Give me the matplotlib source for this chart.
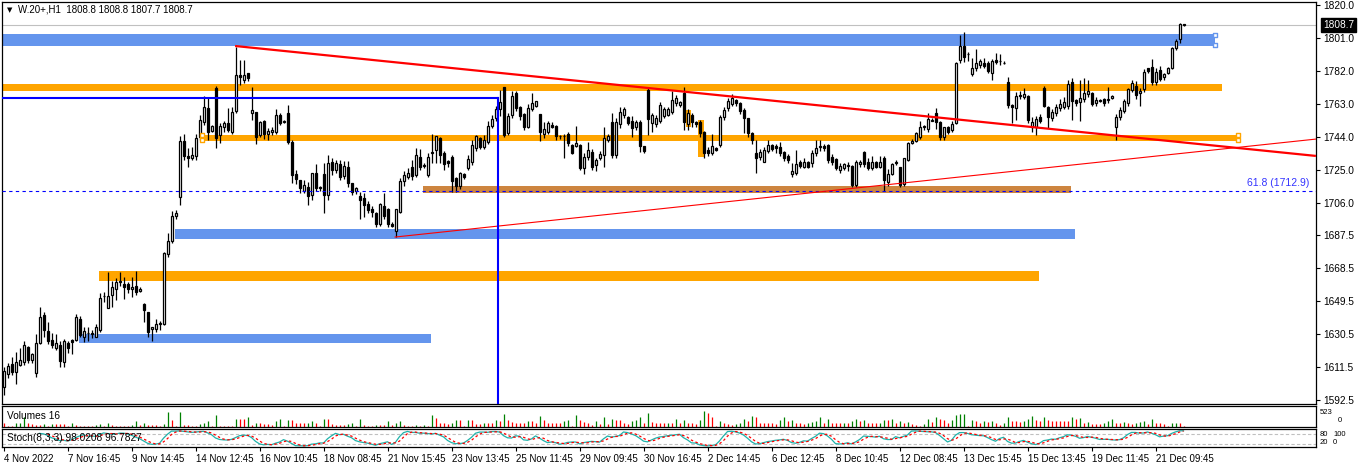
import numpy as np
import matplotlib
matplotlib.use("Agg")
import matplotlib.pyplot as plt
import matplotlib.transforms as mtransforms

plt.rcParams['font.family'] = ['Liberation Sans', 'DejaVu Sans']

# hourly bars, W.20+ H1 (one row = 16 bars = one time label)
opens = [
    1600, 1607.4, 1613.3, 1608.9, 1613, 1614.6, 1622.9, 1615.6, 1608.3, 1625.4, 1641.5, 1632.3, 1627, 1622.8, 1624.3, 1614.2,
    1625.2, 1627, 1627, 1639, 1629, 1631.2, 1630.8, 1629.1, 1632.9, 1652.2, 1645.7, 1653, 1656.3, 1660.6, 1659.3, 1659.3,
    1656.3, 1658.2, 1655.2, 1648, 1643, 1633.2, 1633.3, 1636.5, 1636.1, 1676.6, 1684.3, 1698.5, 1709.3, 1741.7, 1733, 1732,
    1733.1, 1744.2, 1752.8, 1760.5, 1747.6, 1772.2, 1745.1, 1750, 1751.9, 1747, 1759.1, 1779.7, 1776.8, 1780.7, 1758, 1758.2,
    1745.1, 1753.2, 1746, 1747, 1747, 1756.7, 1752.8, 1757.6, 1741.3, 1722.7, 1719.2, 1713.1, 1715.4, 1710.6, 1723.1, 1715.4,
    1722.7, 1710.6, 1729.8, 1725, 1728.3, 1721.5, 1727, 1717.3, 1712.7, 1710, 1709, 1705.4, 1702.6, 1700, 1693.8, 1704.4,
    1702.4, 1694, 1690, 1701, 1718.8, 1720.9, 1726.9, 1722.1, 1732.3, 1727.9, 1722.1, 1735.2, 1736.5, 1743.3, 1734.6, 1730.2,
    1732.7, 1720.2, 1716, 1722.7, 1726.3, 1729.4, 1737.8, 1743.3, 1738.4, 1741.3, 1750.3, 1754.8, 1760, 1772.6, 1746.1, 1756.7,
    1769.1, 1761.1, 1757.1, 1749.6, 1760.1, 1762, 1757.1, 1745.7, 1747, 1750.9, 1750.3, 1744.6, 1744.6, 1745.5, 1739.4, 1738.8,
    1739.4, 1726.3, 1732.3, 1735.2, 1727.9, 1732.1, 1733.6, 1742.3, 1752.8, 1733.6, 1751.3, 1756.7, 1755.3, 1753.2, 1749.9, 1752.8,
    1738.8, 1771, 1751.9, 1751.3, 1753.4, 1756.3, 1756.7, 1758.6, 1763.4, 1762.4, 1769.1, 1751.3, 1756.7, 1752.8, 1752.4, 1747,
    1736.5, 1734.6, 1737.8, 1739.4, 1755.3, 1760.5, 1763, 1765.3, 1763.4, 1759.5, 1754.8, 1746.1, 1734.6, 1732.7, 1729.8, 1735.9,
    1739.4, 1738.8, 1738.4, 1735.5, 1733.1, 1722.5, 1723.1, 1729.4, 1726.9, 1729.4, 1728.8, 1734.6, 1738, 1739, 1739.4, 1732.7,
    1731.3, 1725, 1726.3, 1727.5, 1727.5, 1716.4, 1728.3, 1735.5, 1729.8, 1726.3, 1729.4, 1726.9, 1732.1, 1718.3, 1722.5, 1729.4,
    1726.9, 1716.8, 1730.8, 1740.4, 1741.7, 1744.2, 1750.3, 1748.4, 1753.4, 1757.6, 1752.8, 1744.2, 1749.9, 1748, 1751.9, 1788.3,
    1796.4, 1791.8, 1780.1, 1783.6, 1785.5, 1786.8, 1786.8, 1781, 1788.3, 1787.7, 1786.8, 1775.8, 1762.4, 1760.5, 1768.1, 1767.2,
    1767.6, 1749.9, 1749.6, 1755.7, 1772, 1761.1, 1755.1, 1757.6, 1760.5, 1761.1, 1761.8, 1775.5, 1765.3, 1764.3, 1765.9, 1768.8,
    1769.1, 1763.4, 1765.1, 1765.7, 1765.1, 1766.3, 1749.6, 1755.7, 1759.1, 1763.4, 1771, 1773.4, 1769.2, 1771.5, 1783.6, 1784.1,
    1775.5, 1782.6, 1778.4, 1780.7, 1783.6, 1795.1, 1800.2, 1808.8,
]
highs = [
    1611.6, 1613.7, 1617.1, 1620.2, 1622.3, 1626.5, 1623.7, 1619.6, 1630.6, 1646, 1643.4, 1637.3, 1631, 1630.6, 1626.7, 1627.9,
    1626.5, 1627.5, 1642.1, 1641, 1634.8, 1634.8, 1632.8, 1636.1, 1654.4, 1654.8, 1666.1, 1661, 1663, 1666.2, 1663.4, 1660.3,
    1663.2, 1667.1, 1657.9, 1648.7, 1643, 1634.4, 1639, 1638, 1678, 1688.5, 1701.6, 1702, 1744.6, 1746, 1737.5, 1738,
    1746, 1756.7, 1767.6, 1767.2, 1751, 1773.4, 1751.9, 1753, 1760.5, 1761.5, 1796, 1788.3, 1788.3, 1781, 1772.6, 1758.2,
    1753, 1754, 1749, 1750, 1760, 1758, 1754, 1762.2, 1742, 1725, 1719.5, 1719, 1718.3, 1723.1, 1728.4, 1716,
    1728.8, 1733.6, 1732, 1731, 1731, 1730, 1730, 1717.7, 1715, 1712.5, 1711.5, 1707, 1704, 1701, 1706, 1711.6,
    1703, 1695, 1702.5, 1720.2, 1724.4, 1726, 1731, 1737.5, 1737, 1729, 1735, 1745.6, 1744.6, 1744, 1736, 1731,
    1733.6, 1721, 1724, 1723, 1733.6, 1742, 1745, 1744, 1745, 1753, 1756.7, 1762, 1771, 1773, 1758, 1770.5,
    1770.5, 1762, 1758, 1763, 1769.1, 1765, 1757.1, 1752.8, 1753, 1752.4, 1751, 1745, 1745.5, 1747, 1740, 1750.3,
    1740, 1734.6, 1741, 1737, 1732, 1736, 1750, 1746, 1757.6, 1754.8, 1761.5, 1761.5, 1756, 1756.2, 1754, 1754,
    1739, 1773, 1758, 1756.5, 1764, 1761, 1761, 1770.5, 1768, 1765, 1773, 1760, 1758, 1753, 1754, 1747.5,
    1738, 1746, 1738, 1756.7, 1761, 1766.7, 1768.6, 1766, 1764, 1760.5, 1755, 1747, 1742.3, 1737, 1738, 1742,
    1740, 1740, 1741, 1736, 1734, 1728.8, 1736.5, 1731, 1732, 1730, 1736.5, 1742, 1742, 1740, 1740, 1734,
    1732, 1729, 1729, 1729.4, 1728, 1731, 1731, 1736, 1732, 1733, 1730, 1733, 1733, 1725.3, 1729, 1730.5,
    1727, 1732, 1741, 1743, 1747, 1753, 1751, 1757.6, 1755, 1760.5, 1753, 1750, 1750.5, 1753, 1787.4, 1802.7,
    1804.6, 1793, 1789.3, 1794.5, 1789, 1789.6, 1788, 1789, 1792.2, 1791.8, 1787.5, 1778.4, 1763, 1770, 1770.5, 1772,
    1768, 1755.7, 1756, 1757, 1773.4, 1762, 1760, 1763, 1766, 1767, 1777, 1778, 1766, 1777, 1778, 1777,
    1770, 1767, 1766, 1766.5, 1773, 1768, 1757, 1761, 1766, 1772, 1777, 1776, 1772, 1783, 1784, 1789,
    1784, 1785, 1781, 1784.5, 1796, 1800.5, 1809.4, 1808.8,
]
lows = [
    1595.5, 1605, 1607, 1602, 1612, 1613, 1613.7, 1614, 1606, 1625, 1629, 1624.6, 1622.5, 1621.4, 1611.7, 1611.4,
    1619.5, 1619, 1626.4, 1629, 1626, 1626.7, 1628, 1629, 1631.5, 1649, 1645.4, 1646, 1650, 1658, 1651, 1654,
    1651.9, 1653, 1655, 1637.6, 1629, 1626.7, 1632, 1633, 1636, 1675, 1683, 1697, 1705, 1731, 1727, 1731,
    1731, 1742, 1751, 1742, 1747, 1737.5, 1740.4, 1747, 1747, 1746, 1758, 1774, 1775, 1776, 1753.8, 1740.2,
    1744, 1743, 1742, 1745, 1746, 1751, 1752, 1740, 1717.3, 1717, 1711.6, 1712, 1705, 1708, 1713, 1713,
    1700, 1708, 1722, 1723, 1719, 1720, 1715, 1710.6, 1711, 1697, 1698, 1700, 1698, 1692, 1693, 1697,
    1692, 1692, 1686.6, 1700, 1715.8, 1720, 1719, 1721, 1725, 1726, 1721, 1728.9, 1728.9, 1728.9, 1725, 1727,
    1712.5, 1712.2, 1714, 1720, 1725, 1728, 1736, 1737, 1737, 1740, 1749, 1753, 1756, 1744, 1745.1, 1755,
    1759, 1753.8, 1748, 1749, 1759, 1761, 1741.7, 1743.2, 1746, 1749, 1742, 1743, 1732, 1739, 1734, 1738,
    1725, 1722.5, 1731, 1725, 1724.6, 1731, 1726.9, 1741, 1732, 1732, 1749, 1755, 1751, 1744.2, 1748, 1735.2,
    1735, 1745.1, 1747, 1750, 1752, 1755, 1756, 1757, 1762, 1761, 1748, 1748, 1750, 1750, 1744, 1732,
    1733, 1733.6, 1736, 1738.4, 1754, 1759, 1762, 1762, 1757, 1746.1, 1744, 1740, 1723.1, 1731, 1729.4, 1735,
    1736, 1735, 1733, 1730, 1729, 1721, 1722, 1726, 1726, 1726, 1727, 1733, 1736, 1736, 1729, 1728,
    1725, 1723.1, 1725, 1724.6, 1715, 1715, 1727, 1727, 1725, 1725, 1726, 1726, 1712.9, 1716, 1722, 1728,
    1715, 1716, 1730, 1740, 1741, 1743, 1748, 1747, 1753, 1748.4, 1742, 1742.3, 1746, 1747, 1751.5, 1786.8,
    1787, 1788, 1779, 1782, 1784, 1784, 1781, 1776.8, 1786, 1785.5, 1786, 1760.5, 1752, 1754, 1766, 1766,
    1752, 1747, 1745.1, 1752, 1761, 1749, 1753, 1756, 1759, 1760, 1760, 1754, 1762, 1753, 1764, 1767,
    1762, 1762, 1764, 1762, 1763.4, 1766, 1742.3, 1754, 1758, 1762, 1770, 1766, 1762, 1770, 1781, 1774,
    1774, 1776, 1777, 1780, 1783, 1794, 1798.3, 1807.7,
]
closes = [
    1609, 1612.1, 1608.9, 1614.4, 1615.6, 1624, 1615.6, 1619, 1625.4, 1640.2, 1632.9, 1626.5, 1624, 1625.2, 1615.2, 1626.5,
    1622.7, 1626, 1640.2, 1630, 1632.3, 1631, 1630.9, 1634.4, 1651.1, 1652.5, 1652.5, 1657.5, 1660.3, 1661.3, 1657.9, 1656.3,
    1657.4, 1655, 1656.3, 1644.4, 1632, 1634.4, 1636.3, 1636.7, 1677.4, 1684.3, 1698.5, 1700, 1741.9, 1733.3, 1732, 1733.6,
    1743.3, 1753.8, 1761.1, 1747, 1750.3, 1743.2, 1750.3, 1752, 1748, 1758.6, 1779.7, 1778.4, 1779.7, 1778.2, 1759.5, 1744.2,
    1752.8, 1745.7, 1747.4, 1748, 1756.7, 1752.2, 1753, 1741.3, 1722.1, 1719.8, 1714.4, 1716.4, 1710.2, 1723.1, 1714.5, 1714.5,
    1710.6, 1729.2, 1725, 1728.8, 1721.1, 1727.3, 1717.3, 1712.1, 1714.4, 1708, 1705, 1702, 1701, 1693.9, 1705.2, 1698.7,
    1693.9, 1693, 1702.4, 1718.8, 1722.1, 1723.1, 1721.5, 1733.6, 1726.5, 1727.3, 1732.7, 1735, 1744.6, 1733.6, 1728.3, 1729.2,
    1718.7, 1716, 1723.1, 1721.1, 1731.1, 1739.4, 1744.6, 1738.4, 1742.3, 1750.3, 1754.4, 1759.9, 1764, 1745.1, 1756.3, 1767.6,
    1760.9, 1756.3, 1750, 1760.9, 1763.4, 1764.7, 1747, 1748.6, 1751.9, 1750, 1744.6, 1744.4, 1744.4, 1740.4, 1735, 1740.8,
    1726.3, 1732.7, 1736.5, 1726.9, 1730.8, 1734.2, 1743.6, 1744.6, 1733.6, 1752.4, 1758.2, 1760, 1752.2, 1749.4, 1752.4, 1738.9,
    1736, 1754.2, 1756.7, 1754.8, 1762.4, 1760.1, 1760, 1765.3, 1766.3, 1764.3, 1752.4, 1757.6, 1752.8, 1751.3, 1746.1, 1734.6,
    1734.6, 1738.8, 1736.5, 1755.3, 1759.5, 1764.9, 1766.6, 1763.4, 1759, 1754.8, 1746.1, 1742.3, 1732.1, 1735.5, 1736.5, 1739.4,
    1737.1, 1737.5, 1734.6, 1732.1, 1730.8, 1724.4, 1728.3, 1727.5, 1729.8, 1726.9, 1734.6, 1737.8, 1738.6, 1737.5, 1730.8, 1729.8,
    1726.3, 1727.5, 1728.3, 1727.9, 1716.4, 1729.8, 1729.8, 1728.3, 1726.3, 1729.8, 1726.6, 1729.4, 1719.2, 1722.5, 1728.3, 1729.2,
    1716.4, 1731.7, 1740.4, 1741.7, 1746.1, 1750, 1749.6, 1754.4, 1753.8, 1752.8, 1744.2, 1749.6, 1747, 1751.3, 1786.4, 1796.4,
    1790.2, 1791.6, 1783.6, 1786.8, 1787.7, 1784.9, 1782.2, 1787.7, 1787.4, 1787.6, 1786.6, 1762.4, 1761.1, 1767.6, 1767.7, 1768.8,
    1753.8, 1752.8, 1754.2, 1753.2, 1762, 1755.3, 1758.6, 1761.1, 1762.8, 1764.3, 1774.5, 1764.9, 1763.4, 1766.6, 1769.5, 1770.5,
    1763, 1765.3, 1764.9, 1763.4, 1765.7, 1767.6, 1755.7, 1759.5, 1764.9, 1771.6, 1774.9, 1768.2, 1770.7, 1781.3, 1782.2, 1775.5,
    1781.6, 1777.2, 1780.3, 1783.6, 1795.4, 1799.5, 1809, 1808.7,
]
volumes = [
    150, 40, 40, 120, 150, 330, 120, 95, 60, 60, 95, 40, 95, 95, 95, 95,
    40, 150, 60, 40, 40, 35, 35, 60, 95, 35, 150, 60, 40, 40, 40, 40,
    60, 190, 60, 150, 60, 60, 60, 35, 95, 500, 220, 35, 500, 60, 60, 40,
    40, 95, 120, 190, 40, 400, 40, 40, 40, 40, 280, 280, 280, 330, 60, 150,
    120, 95, 95, 80, 190, 280, 40, 240, 240, 120, 120, 120, 150, 190, 120, 40,
    280, 280, 95, 80, 80, 80, 95, 120, 40, 280, 60, 40, 40, 60, 60, 60,
    190, 80, 150, 190, 60, 40, 40, 80, 40, 60, 40, 400, 290, 150, 125, 100,
    150, 225, 225, 40, 250, 225, 100, 100, 150, 150, 150, 225, 200, 425, 250, 175,
    150, 150, 150, 200, 200, 150, 375, 250, 150, 125, 125, 125, 200, 250, 40, 400,
    225, 175, 125, 75, 200, 100, 350, 100, 275, 225, 225, 150, 100, 200, 225, 325,
    150, 475, 175, 125, 125, 125, 150, 150, 275, 150, 250, 150, 150, 100, 225, 520,
    475, 325, 40, 200, 150, 100, 75, 100, 150, 275, 200, 375, 325, 150, 150, 125,
    125, 100, 225, 350, 200, 225, 150, 125, 100, 125, 175, 200, 350, 150, 275, 125,
    125, 125, 150, 150, 200, 275, 200, 225, 150, 125, 125, 150, 225, 225, 275, 150,
    200, 150, 175, 100, 75, 50, 100, 275, 175, 325, 275, 225, 150, 225, 400, 425,
    450, 40, 225, 200, 150, 200, 175, 200, 150, 75, 150, 325, 200, 200, 175, 200,
    275, 375, 250, 200, 325, 250, 200, 200, 200, 200, 200, 350, 275, 300, 150, 175,
    100, 100, 100, 150, 200, 275, 150, 150, 175, 150, 100, 150, 175, 200, 100, 275,
    150, 125, 100, 50, 125, 150, 150, 40,
]

tick_bars = [0, 16, 32, 48, 64, 80, 96, 112, 128, 144, 160, 176, 192, 208, 224, 240, 256, 272, 288]
tick_labels = ['4 Nov 2022', '7 Nov 16:45', '9 Nov 14:45', '14 Nov 12:45', '16 Nov 10:45',
               '18 Nov 08:45', '21 Nov 15:45', '23 Nov 13:45', '25 Nov 11:45', '29 Nov 09:45',
               '30 Nov 16:45', '2 Dec 14:45', '6 Dec 12:45', '8 Dec 10:45', '12 Dec 08:45',
               '13 Dec 15:45', '15 Dec 13:45', '19 Dec 11:45', '21 Dec 09:45']
price_ticks = [1820.0, 1801.0, 1782.0, 1763.0, 1744.0, 1725.0, 1706.0, 1687.5,
               1668.5, 1649.5, 1630.5, 1611.5, 1592.5]

# zones drawn on the chart: (bar start, bar end, price low, price high, colour)
zones = [
    (-0.4, 302.9, 1796.4, 1803.3, '#6495ED'),
    (-0.4, 304.6, 1770.5, 1774.5, '#FFA500'),
    (49.1, 308.6, 1741.9, 1745.3, '#FFA500'),
    (104.9, 266.9, 1711.8, 1715.8, '#CD853F'),
    (42.9, 267.9, 1685.3, 1691.0, '#6495ED'),
    (23.9, 258.9, 1661.1, 1666.8, '#FFA500'),
    (18.9, 106.9, 1625.4, 1630.6, '#6495ED'),
    (170.6, 171.9, 1749.8, 1759.5, '#FFA500'),
    (173.6, 175.1, 1732.5, 1753.8, '#FFA500'),
]
trend_main = ([57.9, 328.1], [1796.4, 1733.1])
trend_low = ([97.9, 328.1], [1686.4, 1742.8])
blue_level = 1766.6
blue_level_end = 123.6
fib_level = 1712.9
last_price = 1808.7

o = np.array(opens); h = np.array(highs); l = np.array(lows); c = np.array(closes)
v = np.array(volumes)
n = len(c)
x = np.arange(n)

# stochastic 8,3,3
kraw_num = np.full(n, np.nan); kraw_den = np.full(n, np.nan)
for i in range(7, n):
    ll = l[i-7:i+1].min(); hh = h[i-7:i+1].max()
    kraw_num[i] = c[i] - ll; kraw_den[i] = hh - ll
K = np.full(n, np.nan)
for i in range(9, n):
    K[i] = 100 * kraw_num[i-2:i+1].sum() / kraw_den[i-2:i+1].sum()
D = np.full(n, np.nan)
for i in range(11, n):
    D[i] = K[i-2:i+1].mean()

W, H = 1362, 468
fig = plt.figure(figsize=(W/100, H/100), dpi=100)

def px_axes(x0, y0, x1, y1):
    return fig.add_axes([x0/W, 1 - y1/H, (x1-x0)/W, (y1-y0)/H])

XL = (-0.375, 328.125)
ax = px_axes(2, 2, 1316, 404)
axv = px_axes(2, 406, 1316, 427)
axs = px_axes(2, 429, 1316, 447)
for a in (ax, axv, axs):
    a.set_xlim(*XL)
    for s in a.spines.values():
        s.set_linewidth(0.9)
        s.set_color('black')

ax.set_ylim(1590.27, 1821.73)

# zones
for x0, x1, p0, p1, col in zones:
    ax.fill_between([x0, x1], p0, p1, color=col, lw=0, zorder=1)

# handles on some zones
hs = dict(marker='s', s=10, facecolors='white', linewidths=1, zorder=6)
ax.scatter([302.9, 302.9], [1803.0, 1796.7], edgecolors='#6495ED', **hs)
ax.scatter([49.6, 49.6], [1745.0, 1742.2], edgecolors='#FFA500', **hs)
ax.scatter([308.6, 308.6], [1745.0, 1742.2], edgecolors='#FFA500', **hs)

# candles
ax.vlines(x, l, h, color='black', lw=0.9, zorder=3)
up = c >= o
body_lo = np.minimum(o, c); body_h = np.maximum(np.abs(c - o), 0.25)
ax.bar(x[up], body_h[up], bottom=body_lo[up], width=0.5, facecolor='white',
       edgecolor='black', linewidth=0.9, zorder=4)
ax.bar(x[~up], body_h[~up], bottom=body_lo[~up], width=0.5, facecolor='black',
       edgecolor='black', linewidth=0.9, zorder=4)

# lines
ax.axhline(last_price, color='#C0C0C0', lw=0.8, zorder=2)
ax.axhline(fib_level, color='#0000FF', lw=0.8, ls=(0, (3, 3)), zorder=5)
ax.text(326.5, fib_level + 1.6, '61.8 (1712.9)', color='#3333FF', fontsize=7.5,
        ha='right', va='bottom', zorder=6)
ax.plot(*trend_main, color='red', lw=1.6, zorder=5, solid_capstyle='butt')
ax.plot(*trend_low, color='red', lw=0.8, zorder=5)
ax.plot([XL[0], blue_level_end], [blue_level, blue_level], color='#0000FF', lw=1.5, zorder=6)
ax.plot([blue_level_end, blue_level_end], [blue_level, 1590.27], color='#0000FF', lw=1.5, zorder=6)

ax.set_xticks([])
ax.yaxis.tick_right()
ax.set_yticks(price_ticks)
ax.set_yticklabels(['%.1f' % p for p in price_ticks])
ax.tick_params(axis='y', length=3, width=0.8, pad=2, labelsize=7.3)

tr = mtransforms.blended_transform_factory(ax.transAxes, ax.transData)
ax.text(1.0055, last_price, '1808.7', transform=tr, color='white', fontsize=7.3,
        ha='left', va='center', zorder=10, clip_on=False,
        bbox=dict(facecolor='black', edgecolor='black', pad=1.4))

# volumes
vcol = ['#008000' if i > 0 and v[i] > v[i-1] else '#FF0000' for i in range(n)]
axv.vlines(x, 0, v, colors=vcol, lw=0.9)
axv.set_ylim(0, 700)
axv.set_xticks([]); axv.set_yticks([])

# stochastic
axs.axhline(80, color='#C0C0C0', lw=0.8, ls=(0, (3, 2)))
axs.axhline(20, color='#C0C0C0', lw=0.8, ls=(0, (3, 2)))
axs.plot(x, K, color='#20B2AA', lw=0.9)
axs.plot(x, D, color='red', lw=0.9, ls=(0, (2, 2)))
axs.set_ylim(0, 108.6)
axs.set_yticks([])
axs.set_xticks(tick_bars)
axs.set_xticklabels(tick_labels, ha='left', fontsize=7)
axs.tick_params(axis='x', length=3, width=0.8, pad=2)

def ftext(px, py, s, **kw):
    fig.text(px/W, 1 - py/H, s, va='center', **kw)

ftext(7, 10, '\u25BC', fontsize=5, color='black', family=['DejaVu Sans'])
ftext(18, 10, 'W.20+,H1  1808.8 1808.8 1807.7 1808.7', fontsize=7, color='black')
ftext(7, 416, 'Volumes 16', fontsize=7.3, color='black')
ftext(7, 438, 'Stoch(8,3,3) 98.0208 96.7827', fontsize=7.3, color='black')
# small pane scale labels, squeezed side by side
ftext(1320, 412, '523', fontsize=5.5, color='black')
ftext(1338, 421, '0', fontsize=5.5, color='black')
ftext(1320, 434, '80', fontsize=5.5, color='black')
ftext(1333, 434, '100', fontsize=5.5, color='black')
ftext(1320, 443, '20', fontsize=5.5, color='black')
ftext(1333, 443, '0', fontsize=5.5, color='black')

fig.savefig('out.png', dpi=100)
